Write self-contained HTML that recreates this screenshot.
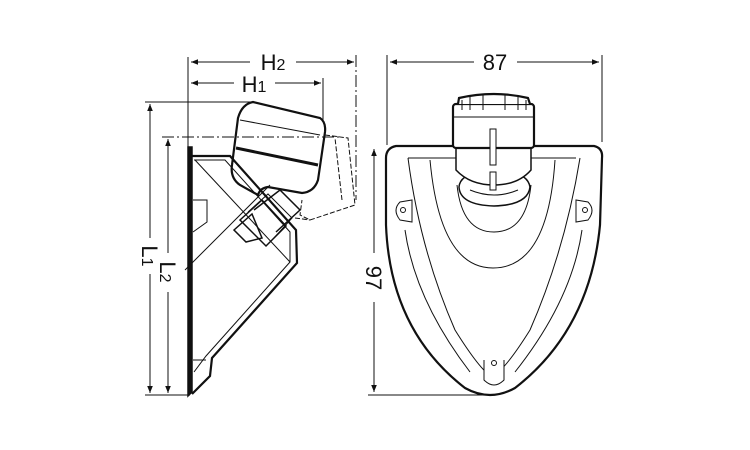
<!DOCTYPE html>
<html><head><meta charset="utf-8"><style>
html,body{margin:0;padding:0;background:#fff;}
svg{display:block}
text{font-family:"Liberation Sans",sans-serif;fill:#111}
</style></head><body>
<svg width="750" height="450" viewBox="0 0 750 450" xmlns="http://www.w3.org/2000/svg">
<defs>
<marker id="a" viewBox="0 0 10 10" refX="10" refY="5" markerWidth="9" markerHeight="7" orient="auto-start-reverse" markerUnits="userSpaceOnUse"><path d="M0,1 L10,5 L0,9 z" fill="#111"/></marker>
</defs>
<g stroke="#111" fill="none" stroke-width="1">
<line x1="188" y1="57" x2="188" y2="147"/>
<line x1="356" y1="55" x2="356" y2="200" stroke-dasharray="12,3,2,3"/>
<line x1="323" y1="78" x2="323" y2="122"/>
<line x1="191" y1="62" x2="250" y2="62" marker-start="url(#a)"/>
<line x1="296" y1="62" x2="354" y2="62" marker-end="url(#a)"/>
<line x1="191" y1="83" x2="234" y2="83" marker-start="url(#a)"/>
<line x1="275" y1="83" x2="321" y2="83" marker-end="url(#a)"/>
<line x1="145" y1="102" x2="255" y2="102"/>
<line x1="162" y1="137" x2="340" y2="137" stroke-dasharray="12,3,2,3"/>
<line x1="145" y1="395" x2="190" y2="395"/>
<line x1="150" y1="104" x2="150" y2="238" marker-start="url(#a)"/>
<line x1="150" y1="274" x2="150" y2="393" marker-end="url(#a)"/>
<line x1="168" y1="139" x2="168" y2="253" marker-start="url(#a)"/>
<line x1="168" y1="292" x2="168" y2="393" marker-end="url(#a)"/>
<path d="M188,147 L192,147 L192,392 L188,396 Z" fill="#111" stroke-width="1.5"/>
<path d="M192,156 L230,156 L296,230 L297,263 L212,358 L210,376 L192,394" stroke-width="2.2"/>
<path d="M194,160 L225,160 L290,232 L290,262 L206,356 L194,372" stroke-width="1"/>
<line x1="195" y1="160" x2="290" y2="262"/>
<path d="M193,200 L207,200 L207,222 L193,232"/>
<line x1="193" y1="360" x2="206" y2="360"/>
<line x1="185" y1="270" x2="270" y2="185"/>
<path d="M240,220 L262,200 L286,226 L266,246 Z" stroke-width="1.5"/>
<path d="M248,212 L268,194 L292,218 L274,238" />
<path d="M234,230 L252,214 L262,238 L246,242 Z" stroke-width="1.5"/>
<path d="M254,210 L280,190 L300,210 L276,232" stroke-width="1.5"/>
<path d="M253,102 L320,118 Q326,122 325,132 L318,180 Q314,192 302,193 L268,187 Q260,188 258,195 L240,185 Q230,178 232,165 L238,118 Q242,104 253,102 Z" stroke-width="2.2"/>
<line x1="236" y1="148" x2="318" y2="165" stroke-width="3"/>
<line x1="240" y1="120" x2="320" y2="135"/>
<path d="M325,135 L348,138 L355,205 L310,220 L300,215 L302,200" stroke-dasharray="5,2"/>
<line x1="342" y1="200" x2="335" y2="138" stroke-dasharray="5,2"/>
<line x1="295" y1="218" x2="310" y2="220" stroke-dasharray="5,2"/>

<line x1="387" y1="55" x2="387" y2="145"/>
<line x1="602" y1="55" x2="602" y2="142"/>
<line x1="390" y1="62" x2="474" y2="62" marker-start="url(#a)"/>
<line x1="517" y1="62" x2="599" y2="62" marker-end="url(#a)"/>
<line x1="368" y1="395" x2="492" y2="395"/>
<line x1="374" y1="149" x2="374" y2="253" marker-start="url(#a)"/>
<line x1="374" y1="302" x2="374" y2="392" marker-end="url(#a)"/>
<path d="M396,146 L454,146 M533,146 L594,146 Q603,148 602,158 L600,225 Q590,330 515,388 Q490,402 465,388 Q390,330 386,225 L386,158 Q386,148 396,146 Z" stroke-width="2.2"/>
<path d="M408,158 Q420,250 455,330 Q480,370 492,377 Q505,370 530,330 Q565,250 580,158" />
<path d="M408,158 L576,158"/>
<path d="M430,160 Q440,268 493,268 Q548,268 555,160" />
<path d="M457,185 Q462,232 494,232 Q526,232 531,185" />
<path d="M405,230 Q415,300 470,372 M582,230 Q572,300 515,372"/>
<path d="M400,202 Q392,210 400,220 L412,222 L412,200 Z" fill="#fff"/>
<circle cx="403" cy="210" r="2.5"/>
<path d="M588,202 Q596,210 588,220 L576,222 L576,200 Z" fill="#fff"/>
<circle cx="585" cy="210" r="2.5"/>
<path d="M484,360 L484,380 Q494,390 504,380 L504,360" fill="#fff"/>
<circle cx="494" cy="363" r="2.5"/>
<path d="M459,187 Q460,175 480,172 L510,172 Q528,175 530,187 Q528,205 494,206 Q460,205 459,187 Z" fill="#fff" stroke-width="1.5"/>
<path d="M470,190 Q494,200 518,190"/>
<path d="M456,146 L456,170 Q470,185 494,185 Q518,185 531,170 L531,146" fill="#fff" stroke-width="1.5"/>
<rect x="453" y="104" width="81" height="44" rx="3" fill="#fff" stroke-width="2.2"/>
<path d="M458,104 L459,98 Q494,90 528,98 L530,104" stroke-width="2.2" fill="#fff"/>
<path d="M462,100 L462,110 M470,97 L470,110 M483,95 L483,110 M505,95 L505,110 M518,97 L518,110 M526,100 L526,110"/>
<line x1="453" y1="117" x2="534" y2="117"/>
<rect x="490" y="129" width="6" height="36" fill="#fff"/>
<rect x="490" y="172" width="6" height="18" fill="#fff"/>
</g>
<text x="273" y="70" font-size="22" text-anchor="middle">H<tspan font-size="16">2</tspan></text>
<text x="254" y="92" font-size="22" text-anchor="middle">H<tspan font-size="16">1</tspan></text>
<text x="495" y="70" font-size="22" text-anchor="middle">87</text>
<g transform="translate(150,256) rotate(90)"><text x="0" y="8" font-size="22" text-anchor="middle">L<tspan font-size="16">1</tspan></text></g>
<g transform="translate(168,272) rotate(90)"><text x="0" y="8" font-size="22" text-anchor="middle">L<tspan font-size="16">2</tspan></text></g>
<g transform="translate(374,278) rotate(90)"><text x="0" y="8" font-size="22" text-anchor="middle">97</text></g>
</svg>
</body></html>
